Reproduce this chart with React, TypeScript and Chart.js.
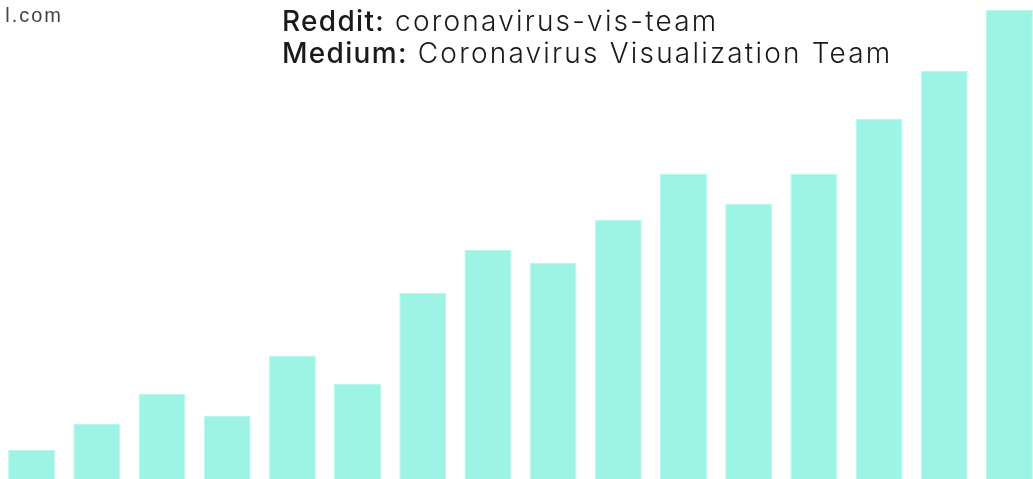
import React, { useEffect, useRef } from "react";
import { Chart, registerables } from "chart.js";

Chart.register(...registerables);

const categories = ["1", "2", "3", "4", "5", "6", "7", "8", "9", "10", "11", "12", "13", "14", "15", "16"];
const values = [29, 55, 85, 63, 123, 95, 186, 229, 216, 259, 305, 275, 305, 360, 408, 469];
const yMax = 479;
const barColor = "#9DF3E4";
const barEdge = "#B8F7EC";

export default function App() {
  const ref = useRef<HTMLCanvasElement | null>(null);

  useEffect(() => {
    if (!ref.current) return;
    const chart = new Chart(ref.current, {
      type: "bar",
      data: {
        labels: categories,
        datasets: [
          {
            data: values,
            backgroundColor: barColor,
            borderColor: barEdge,
            borderWidth: 1,
            categoryPercentage: 1,
            barPercentage: 0.72,
          },
        ],
      },
      options: {
        responsive: false,
        animation: false,
        devicePixelRatio: 1,
        layout: { padding: 0 },
        plugins: { legend: { display: false }, tooltip: { enabled: false } },
        scales: {
          x: { display: false, offset: true, grid: { display: false } },
          y: { display: false, min: 0, max: yMax, grid: { display: false } },
        },
      },
    });
    return () => chart.destroy();
  }, []);

  const textFont = "Inter, 'Noto Sans', sans-serif";

  return (
    <div
      style={{
        position: "fixed",
        left: 0,
        top: 0,
        width: 1033,
        height: 479,
        overflow: "hidden",
        background: "#fff",
      }}
    >
      <canvas
        ref={ref}
        width={1043}
        height={479}
        style={{ position: "absolute", left: -0.6, top: 0, width: 1043, height: 479 }}
      />
      <div
        style={{
          position: "absolute",
          right: 1033 - 63,
          top: 2,
          fontFamily: "'Liberation Sans', Arial, sans-serif",
          fontSize: 20,
          color: "#444",
          letterSpacing: 2,
          lineHeight: "26px",
          whiteSpace: "nowrap",
        }}
      >
        l.com
      </div>
      <div
        style={{
          position: "absolute",
          left: 282,
          top: 5,
          fontFamily: textFont,
          fontSize: 28,
          fontWeight: 300,
          color: "#1a1a1a",
          letterSpacing: 2.2,
          lineHeight: "32px",
          whiteSpace: "nowrap",
        }}
      >
        <div>
          <span style={{ fontWeight: 500, letterSpacing: 1.3 }}>Reddit:</span> coronavirus-vis-team
        </div>
        <div>
          <span style={{ fontWeight: 500, letterSpacing: 1.3 }}>Medium:</span> Coronavirus Visualization Team
        </div>
      </div>
    </div>
  );
}
